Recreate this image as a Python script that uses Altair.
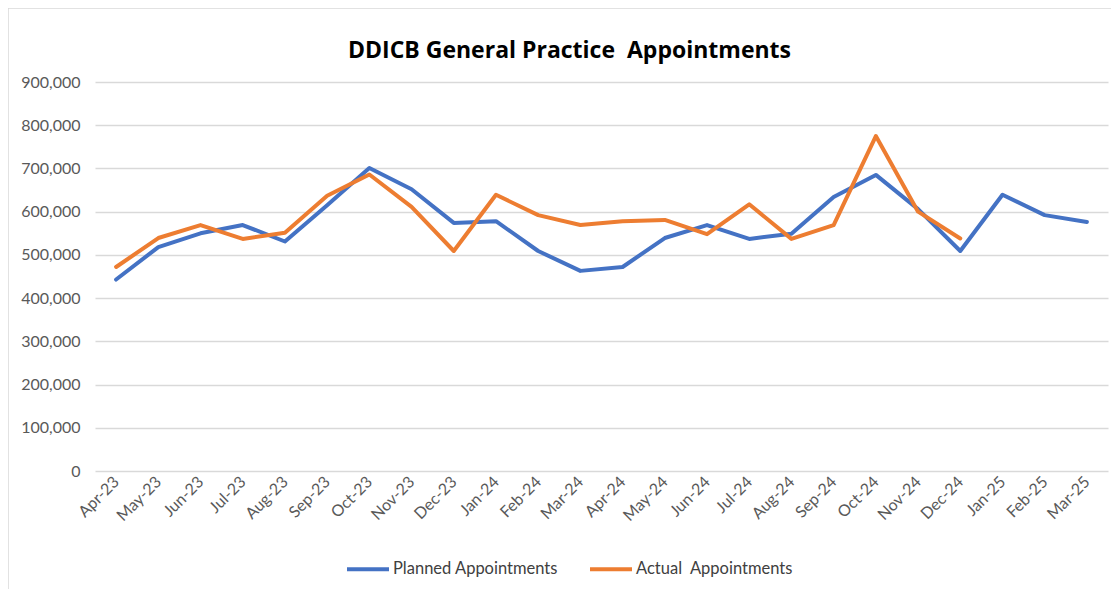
import altair as alt
import pandas as pd

months = ["Apr-23", "May-23", "Jun-23", "Jul-23", "Aug-23", "Sep-23", "Oct-23", "Nov-23",
          "Dec-23", "Jan-24", "Feb-24", "Mar-24", "Apr-24", "May-24", "Jun-24", "Jul-24",
          "Aug-24", "Sep-24", "Oct-24", "Nov-24", "Dec-24", "Jan-25", "Feb-25", "Mar-25"]

planned = [443000, 518000, 550000, 569000, 531000, 615000, 701000, 652000,
           574000, 578000, 509000, 463000, 472000, 539000, 569000, 537000,
           549000, 634000, 685000, 606000, 509000, 639000, 592000, 576000]

actual = [472000, 539000, 569000, 537000, 551000, 637000, 686000, 611000,
          509000, 639000, 592000, 569000, 578000, 581000, 548000, 617000,
          537000, 569000, 775000, 600000, 538000, None, None, None]

series_names = ["Planned Appointments", "Actual\u00a0 Appointments"]
series_colors = ["#4472C4", "#ED7D31"]
title_text = "DDICB General Practice\u00a0 Appointments"

rows = []
for i, m in enumerate(months):
    rows.append({"Month": m, "Series": series_names[0], "Value": planned[i], "order": 0})
    if actual[i] is not None:
        rows.append({"Month": m, "Series": series_names[1], "Value": actual[i], "order": 1})
df = pd.DataFrame(rows)

FONT = "Lato"
W, H = 1013, 389
BOTTOM = 118

lines = alt.Chart(df).mark_line(strokeWidth=4, strokeCap="round", strokeJoin="round").encode(
    x=alt.X("Month:O", sort=months, scale=alt.Scale(type="point", padding=0.5),
            axis=alt.Axis(title=None, labelAngle=-45, labelAlign="right", labelBaseline="middle",
                          labelPadding=8, ticks=False, domain=False, grid=False,
                          labelFont=FONT, labelFontSize=16, labelColor="#595959")),
    y=alt.Y("Value:Q", scale=alt.Scale(domain=[0, 900000], nice=False),
            axis=alt.Axis(title=None, values=list(range(0, 900001, 100000)), format=",.0f",
                          ticks=False, domain=False, grid=True, gridColor="#D9D9D9",
                          gridWidth=1.5, labelPadding=15, labelFont=FONT, labelFontSize=16,
                          labelColor="#595959")),
    color=alt.Color("Series:N", scale=alt.Scale(domain=series_names, range=series_colors),
                    legend=alt.Legend(title=None, orient="none", direction="horizontal",
                                      legendX=250, legendY=464, symbolType="stroke",
                                      symbolSize=1764, symbolStrokeWidth=4,
                                      labelFont=FONT, labelFontSize=16.5, labelColor="#404040",
                                      labelOffset=2, labelLimit=400, columnPadding=24)),
    detail="Series:N",
    order="order:Q",
)

one = pd.DataFrame({"a": [0]})
border = alt.Chart(one).mark_rule(color="#D9D9D9", strokeWidth=1.5).encode(
    x=alt.value(-87), y=alt.value(-74), y2=alt.value(H + BOTTOM)
)
border_top = alt.Chart(one).mark_rule(color="#D9D9D9", strokeWidth=1.5).encode(
    x=alt.value(-87), x2=alt.value(W + 12), y=alt.value(-74)
)
title = alt.Chart(one).mark_text(font="Open Sans", fontSize=23, fontWeight="bold", color="#000000",
                                 align="center", baseline="alphabetic").encode(
    x=alt.value(W / 2 - 32), y=alt.value(-24), text=alt.value(title_text)
)

chart = alt.layer(border, border_top, title, lines).properties(
    width=W, height=H,
    autosize=alt.AutoSizeParams(type="none"),
    padding={"left": 87, "top": 74, "right": 3, "bottom": BOTTOM},
).configure_view(stroke=None)

chart.save("out.html", embed_options={"renderer": "svg", "actions": False})
